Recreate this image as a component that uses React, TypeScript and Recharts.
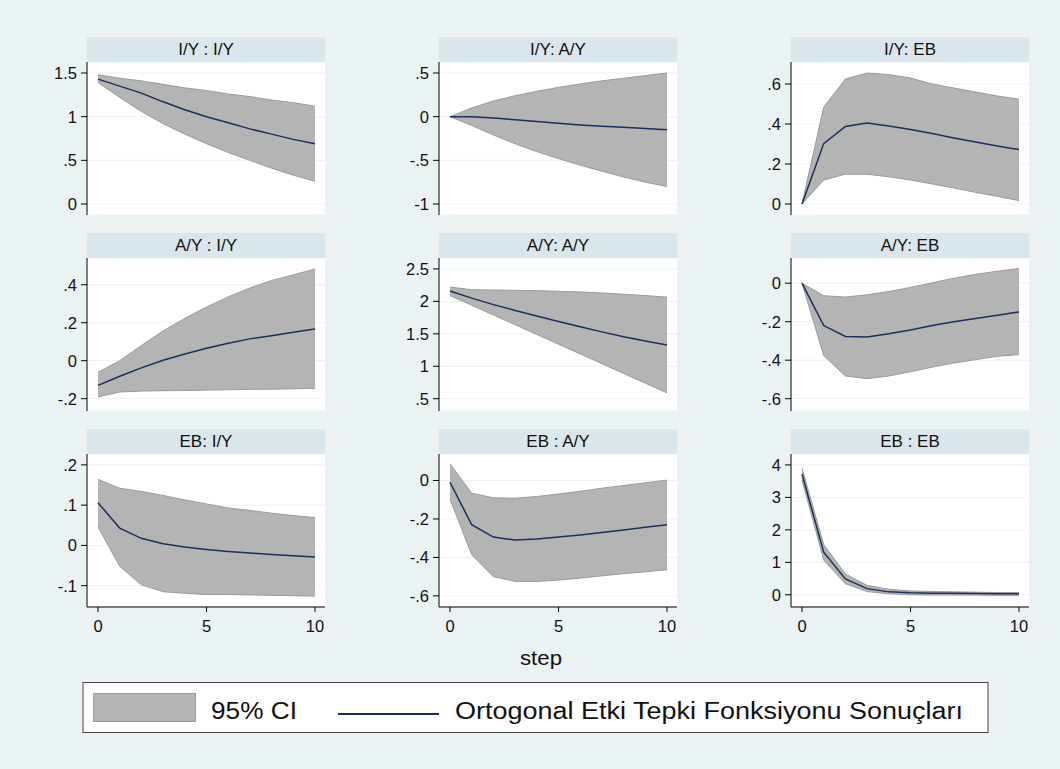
import { Area, CartesianGrid, ComposedChart, Line, XAxis, YAxis } from 'recharts'

const steps = [0, 1, 2, 3, 4, 5, 6, 7, 8, 9, 10]
const xTicks = [0, 5, 10]

// impulse : response -> irf, lower ci, upper ci
const iyIyIrf = [1.43, 1.35, 1.27, 1.17, 1.08, 1.0, 0.93, 0.86, 0.8, 0.74, 0.69]
const iyIyLo = [1.39, 1.22, 1.06, 0.92, 0.8, 0.69, 0.59, 0.5, 0.41, 0.33, 0.26]
const iyIyHi = [1.48, 1.44, 1.41, 1.37, 1.33, 1.3, 1.26, 1.23, 1.19, 1.16, 1.12]

const iyAyIrf = [0, 0, -0.015, -0.035, -0.055, -0.075, -0.095, -0.11, -0.12, -0.135, -0.15]
const iyAyLo = [0, -0.1, -0.21, -0.31, -0.4, -0.48, -0.555, -0.625, -0.69, -0.75, -0.8]
const iyAyHi = [0, 0.1, 0.18, 0.24, 0.29, 0.335, 0.375, 0.41, 0.44, 0.47, 0.5]

const iyEbIrf = [0, 0.302, 0.388, 0.405, 0.39, 0.373, 0.352, 0.33, 0.31, 0.29, 0.272]
const iyEbLo = [0, 0.12, 0.149, 0.149, 0.136, 0.12, 0.1, 0.08, 0.058, 0.038, 0.017]
const iyEbHi = [0, 0.484, 0.625, 0.655, 0.647, 0.63, 0.6, 0.58, 0.56, 0.54, 0.524]

const ayIyIrf = [-0.13, -0.082, -0.038, 0.002, 0.035, 0.066, 0.092, 0.115, 0.132, 0.15, 0.167]
const ayIyLo = [-0.191, -0.165, -0.16, -0.158, -0.157, -0.155, -0.153, -0.151, -0.15, -0.148, -0.146]
const ayIyHi = [-0.061, 0, 0.08, 0.157, 0.223, 0.283, 0.336, 0.383, 0.423, 0.452, 0.483]

const ayAyIrf = [2.16, 2.05, 1.95, 1.86, 1.775, 1.69, 1.61, 1.53, 1.455, 1.39, 1.327]
const ayAyLo = [2.09, 1.94, 1.79, 1.64, 1.49, 1.34, 1.19, 1.04, 0.89, 0.74, 0.59]
const ayAyHi = [2.22, 2.18, 2.175, 2.17, 2.165, 2.155, 2.145, 2.13, 2.11, 2.09, 2.065]

const ayEbIrf = [0, -0.22, -0.277, -0.28, -0.263, -0.243, -0.22, -0.2, -0.183, -0.166, -0.149]
const ayEbLo = [0, -0.376, -0.482, -0.496, -0.482, -0.46, -0.436, -0.415, -0.397, -0.38, -0.371]
const ayEbHi = [0, -0.065, -0.072, -0.06, -0.043, -0.022, 0.002, 0.026, 0.046, 0.062, 0.077]

const ebIyIrf = [0.106, 0.043, 0.0175, 0.004, -0.004, -0.01, -0.015, -0.019, -0.0225, -0.026, -0.029]
const ebIyLo = [0.046, -0.052, -0.098, -0.115, -0.119, -0.122, -0.122, -0.123, -0.124, -0.125, -0.126]
const ebIyHi = [0.164, 0.142, 0.134, 0.124, 0.113, 0.103, 0.093, 0.087, 0.08, 0.074, 0.069]

const ebAyIrf = [-0.009, -0.23, -0.294, -0.31, -0.304, -0.294, -0.283, -0.27, -0.257, -0.243, -0.23]
const ebAyLo = [-0.096, -0.386, -0.5, -0.525, -0.525, -0.518, -0.508, -0.496, -0.485, -0.475, -0.464]
const ebAyHi = [0.087, -0.066, -0.09, -0.092, -0.083, -0.07, -0.056, -0.04, -0.026, -0.012, 0.002]

const ebEbIrf = [3.72, 1.31, 0.49, 0.19, 0.09, 0.06, 0.05, 0.045, 0.04, 0.03, 0.03]
const ebEbLo = [3.53, 1.07, 0.34, 0.1, 0.03, 0, -0.01, -0.01, -0.01, -0.02, -0.02]
const ebEbHi = [3.9, 1.55, 0.64, 0.29, 0.17, 0.12, 0.1, 0.09, 0.08, 0.07, 0.07]

const titles = ['I/Y : I/Y', 'I/Y: A/Y', 'I/Y: EB', 'A/Y : I/Y', 'A/Y: A/Y', 'A/Y: EB', 'EB: I/Y', 'EB : A/Y', 'EB : EB']
const yTicks = [
  [0, 0.5, 1, 1.5],
  [-1, -0.5, 0, 0.5],
  [0, 0.2, 0.4, 0.6],
  [-0.2, 0, 0.2, 0.4],
  [0.5, 1, 1.5, 2, 2.5],
  [-0.6, -0.4, -0.2, 0],
  [-0.1, 0, 0.1, 0.2],
  [-0.6, -0.4, -0.2, 0],
  [0, 1, 2, 3, 4],
]
const series = [
  [iyIyIrf, iyIyLo, iyIyHi],
  [iyAyIrf, iyAyLo, iyAyHi],
  [iyEbIrf, iyEbLo, iyEbHi],
  [ayIyIrf, ayIyLo, ayIyHi],
  [ayAyIrf, ayAyLo, ayAyHi],
  [ayEbIrf, ayEbLo, ayEbHi],
  [ebIyIrf, ebIyLo, ebIyHi],
  [ebAyIrf, ebAyLo, ebAyHi],
  [ebEbIrf, ebEbLo, ebEbHi],
]
// axis ranges as drawn (plot region incl. margins)
const domains: [number, number][] = [
  [-0.126, 1.626],
  [-1.126, 0.626],
  [-0.055, 0.71],
  [-0.265, 0.541],
  [0.311, 2.668],
  [-0.664, 0.131],
  [-0.153, 0.227],
  [-0.658, 0.138],
  [-0.376, 4.336],
]

const BG = '#eaf2f3'
const STRIP = '#d9e6eb'
const NAVY = '#1a2f5f'
const FONT = '"Liberation Sans", Arial, sans-serif'

const colLeft = [87, 439, 791]
const rowTop = [37, 233, 429]
const PLOT_W = 238
const PLOT_H = 153
const STRIP_H = 25
const AXIS_W = 70

const fmt = (v: number) => String(v).replace(/^(-?)0\./, '$1.')

function Panel({ index }: { index: number }) {
  const row = Math.floor(index / 3)
  const col = index % 3
  const bottom = row === 2
  const [irf, lo, hi] = series[index]
  const data = steps.map((s, i) => ({ step: s, irf: irf[i], ci: [lo[i], hi[i]] }))
  const left = colLeft[col]
  const top = rowTop[row]

  return (
    <>
      <div
        style={{
          position: 'absolute',
          left,
          top,
          width: PLOT_W,
          height: STRIP_H,
          background: STRIP,
          textAlign: 'center',
          lineHeight: `${STRIP_H}px`,
          fontSize: 17,
          fontFamily: FONT,
          color: '#111',
        }}
      >
        {titles[index]}
      </div>
      <div style={{ position: 'absolute', left: left - AXIS_W, top: top + STRIP_H }}>
        <ComposedChart
          width={AXIS_W + PLOT_W}
          height={PLOT_H + (bottom ? 40 : 0)}
          data={data}
          margin={{ top: 0, right: 0, bottom: 0, left: 0 }}
        >
          <CartesianGrid horizontal vertical={false} stroke={BG} fill="#ffffff" />
          <XAxis
            dataKey="step"
            type="number"
            domain={[0, 10]}
            ticks={xTicks}
            hide={!bottom}
            height={40}
            padding={{ left: 11, right: 10 }}
            tickSize={5}
            tickMargin={8}
            axisLine={{ stroke: '#000' }}
            tickLine={{ stroke: '#000' }}
            tick={{ fill: '#111', fontSize: 16.5, fontFamily: FONT }}
          />
          <YAxis
            type="number"
            domain={domains[index]}
            ticks={yTicks[index]}
            allowDataOverflow
            width={AXIS_W}
            tickSize={6}
            tickMargin={4}
            tickFormatter={fmt}
            axisLine={{ stroke: '#000' }}
            tickLine={{ stroke: '#000' }}
            tick={{ fill: '#111', fontSize: 16.5, fontFamily: FONT }}
          />
          <Area
            type="linear"
            dataKey="ci"
            fill="#b4b4b4"
            fillOpacity={1}
            stroke="#9a9a9a"
            strokeWidth={1}
            isAnimationActive={false}
          />
          <Line
            type="linear"
            dataKey="irf"
            stroke={NAVY}
            strokeWidth={1.5}
            dot={false}
            isAnimationActive={false}
          />
        </ComposedChart>
      </div>
    </>
  )
}

export default function App() {
  return (
    <div style={{ position: 'absolute', left: 0, top: 0, width: 1060, height: 769, background: BG, overflow: 'hidden' }}>
      {titles.map((_, i) => (
        <Panel key={i} index={i} />
      ))}
      <svg width={1060} height={769} style={{ position: 'absolute', left: 0, top: 0 }} fontFamily={FONT}>
        <text x={541} y={665} textAnchor="middle" fontSize={21} textLength={42} lengthAdjust="spacingAndGlyphs" fill="#111">
          step
        </text>
        <rect x={83} y={682.5} width={905} height={50} fill="#ffffff" stroke="#444" strokeWidth={1} />
        <rect x={93.5} y={693.5} width={102} height={28} fill="#b4b4b4" stroke="#9a9a9a" strokeWidth={1} />
        <text x={211} y={719} fontSize={23} textLength={86} lengthAdjust="spacingAndGlyphs" fill="#111">
          95% CI
        </text>
        <line x1={338} y1={714} x2={439} y2={714} stroke={NAVY} strokeWidth={2} />
        <text x={455} y={719} fontSize={23} textLength={508} lengthAdjust="spacingAndGlyphs" fill="#111">
          Ortogonal Etki Tepki Fonksiyonu Sonuçları
        </text>
      </svg>
    </div>
  )
}
